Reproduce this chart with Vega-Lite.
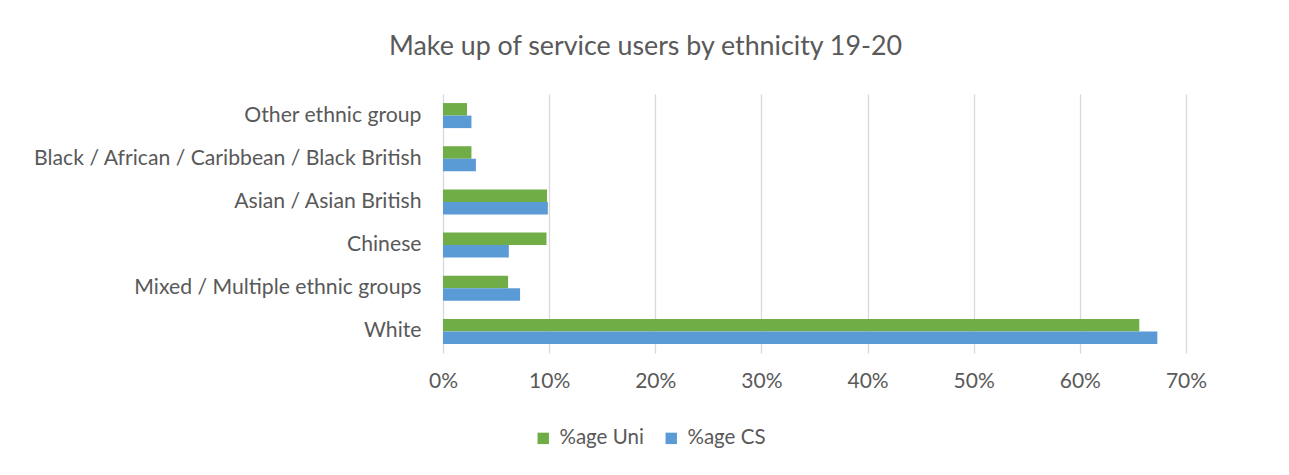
{
  "$schema": "https://vega.github.io/schema/vega-lite/v6.json",
  "autosize": "none",
  "width": 743,
  "height": 259,
  "padding": {"left": 443, "top": 94, "right": 103, "bottom": 122},
  "background": "white",
  "title": {
    "text": "Make up of service users by ethnicity 19-20",
    "font": "Lato",
    "fontSize": 26.8,
    "fontWeight": "normal",
    "color": "#595959",
    "anchor": "middle",
    "dx": -169,
    "offset": 33
  },
  "data": {
    "values": [
      {"group": "Other ethnic group", "series": "%age Uni", "value": 0.0226},
      {"group": "Other ethnic group", "series": "%age CS", "value": 0.0268},
      {"group": "Black / African / Caribbean / Black British", "series": "%age Uni", "value": 0.0268},
      {"group": "Black / African / Caribbean / Black British", "series": "%age CS", "value": 0.031},
      {"group": "Asian / Asian British", "series": "%age Uni", "value": 0.098},
      {"group": "Asian / Asian British", "series": "%age CS", "value": 0.0988},
      {"group": "Chinese", "series": "%age Uni", "value": 0.0975},
      {"group": "Chinese", "series": "%age CS", "value": 0.062},
      {"group": "Mixed / Multiple ethnic groups", "series": "%age Uni", "value": 0.0613},
      {"group": "Mixed / Multiple ethnic groups", "series": "%age CS", "value": 0.0726},
      {"group": "White", "series": "%age Uni", "value": 0.656},
      {"group": "White", "series": "%age CS", "value": 0.673}
    ]
  },
  "mark": {"type": "bar"},
  "encoding": {
    "y": {
      "field": "group",
      "type": "nominal",
      "sort": ["Other ethnic group", "Black / African / Caribbean / Black British", "Asian / Asian British", "Chinese", "Mixed / Multiple ethnic groups", "White"],
      "scale": {"paddingInner": 0.42, "paddingOuter": 0.21},
      "axis": {
        "title": null,
        "domain": false,
        "ticks": false,
        "labelPadding": 22,
        "labelFont": "Lato",
        "labelFontSize": 21.2,
        "labelColor": "#595959",
        "labelLimit": 500
      }
    },
    "yOffset": {
      "field": "series",
      "type": "nominal",
      "sort": ["%age Uni", "%age CS"],
      "scale": {"paddingInner": 0, "paddingOuter": 0}
    },
    "x": {
      "field": "value",
      "type": "quantitative",
      "scale": {"domain": [0, 0.7], "nice": false},
      "axis": {
        "title": null,
        "format": ".0%",
        "values": [0, 0.1, 0.2, 0.3, 0.4, 0.5, 0.6, 0.7],
        "domain": false,
        "ticks": false,
        "grid": true,
        "gridColor": "#D9D9D9",
        "gridWidth": 1.3,
        "labelFlush": false,
        "labelPadding": 17,
        "labelFont": "Lato",
        "labelFontSize": 21,
        "labelColor": "#595959"
      }
    },
    "color": {
      "field": "series",
      "type": "nominal",
      "sort": ["%age Uni", "%age CS"],
      "scale": {"domain": ["%age Uni", "%age CS"], "range": ["#70AD47", "#5B9BD5"]},
      "legend": {
        "title": null,
        "orient": "none",
        "direction": "horizontal",
        "legendX": 90,
        "legendY": 334,
        "symbolType": "square",
        "symbolSize": 130,
        "symbolStrokeWidth": 0,
        "labelFont": "Lato",
        "labelFontSize": 20.5,
        "labelColor": "#595959",
        "labelOffset": 6,
        "columnPadding": 17
      }
    }
  },
  "config": {"view": {"stroke": null}}
}
